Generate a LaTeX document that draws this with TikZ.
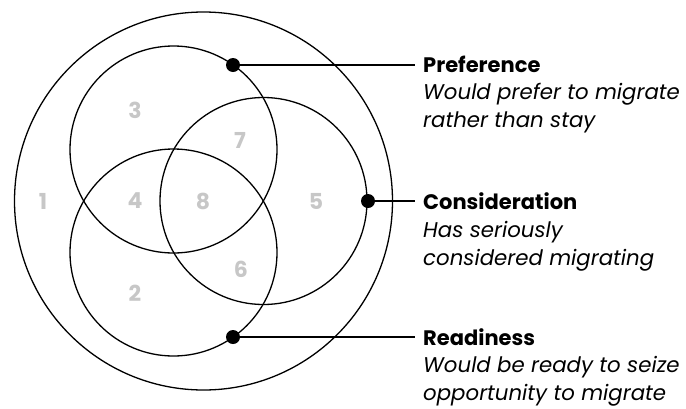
\documentclass[tikz,border=0pt]{standalone}
\usepackage{fontspec}
\setmainfont{Poppins}
\begin{document}
\begin{tikzpicture}[x=1pt,y=-1pt,
  ring/.style={draw=black,line width=1.3pt,circle,inner sep=0pt,minimum size=#1},
  dotmark/.style={fill=black,circle,inner sep=0pt,minimum size=14pt},
  lead/.style={line width=2pt},
  num/.style={text=black!22,font=\bfseries\fontsize{22}{22}\selectfont,inner sep=0pt},
  title/.style={anchor=base west,inner sep=0pt,font=\bfseries\fontsize{21}{21}\selectfont},
  sub/.style={anchor=base west,inner sep=0pt,font=\itshape\fontsize{21.3}{21}\selectfont}]
\useasboundingbox (0,0) rectangle (686,408);
\node[ring=378pt] (outer) at (203.5,201) {};
\node[ring=207pt] (pref) at (173.5,149.5) {};
\node[ring=207pt] (ready) at (173.5,252.5) {};
\node[ring=207pt] (cons) at (263.5,201) {};
\node[dotmark] (dp) at (233,65) {};
\node[dotmark] (dc) at (368,201) {};
\node[dotmark] (dr) at (233,337) {};
\coordinate (ep) at (415,65);
\coordinate (ec) at (415,201);
\coordinate (er) at (415,337);
\draw[lead] (dp.center) -- (ep);
\draw[lead] (dc.center) -- (ec);
\draw[lead] (dr.center) -- (er);
\node[num] (n1) at (43,201) {1};
\node[num] (n2) at (135,293) {2};
\node[num] (n3) at (135,110) {3};
\node[num] (n4) at (135,201) {4};
\node[num] (n5) at (316,201) {5};
\node[num] (n6) at (241,269) {6};
\node[num] (n7) at (240,140) {7};
\node[num] (n8) at (203,201) {8};
\node[title] (tp) at (423,72) {Preference};
\node[sub] (sp1) at (423,99.5) {Would prefer to migrate};
\node[sub] (sp2) at (423,127) {rather than stay};
\node[title] (tc) at (423,209) {Consideration};
\node[sub] (sc1) at (423,237) {Has seriously};
\node[sub] (sc2) at (423,265) {considered migrating};
\node[title] (tr) at (423,345) {Readiness};
\node[sub] (sr1) at (423,372.5) {Would be ready to seize};
\node[sub] (sr2) at (423,400) {opportunity to migrate};
\end{tikzpicture}
\end{document}
